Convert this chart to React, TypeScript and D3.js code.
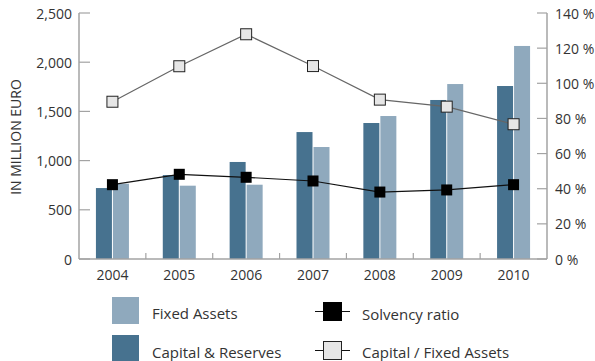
import React from "react";
import * as d3 from "d3";

const years = ["2004", "2005", "2006", "2007", "2008", "2009", "2010"];
const capitalReserves = [721, 853, 986, 1290, 1382, 1616, 1758];
const fixedAssets = [765, 745, 755, 1138, 1453, 1778, 2165];
const solvencyRatio = [42.3, 48.2, 46.5, 44.4, 38.1, 39.3, 42.3];
const capitalFixedRatio = [89.5, 109.7, 127.9, 109.8, 90.7, 86.7, 76.7];
const leftTicks = [0, 500, 1000, 1500, 2000, 2500];
const rightTicks = [0, 20, 40, 60, 80, 100, 120, 140];

const W = 595;
const H = 361;
const M = { left: 79, right: 547, top: 13, bottom: 259 };
const DARK = "#47728f";
const LIGHT = "#8fa9bd";
const AXIS = "#a3a3a3";
const TEXT = "#333";
const FONT = "'Open Sans', Lato, sans-serif";

export default function App() {
  const x = d3.scaleBand<string>().domain(years).range([M.left, M.right]);
  const yL = d3.scaleLinear().domain([0, 2500]).range([M.bottom, M.top]);
  const yR = d3.scaleLinear().domain([0, 140]).range([M.bottom, M.top]);
  const cx = (y: string) => (x(y) as number) + x.bandwidth() / 2;
  const barW = 16;
  const lineCF = d3
    .line<number>()
    .x((_, i) => cx(years[i]))
    .y((d) => yR(d));

  return (
    <svg
      width={W}
      height={H}
      style={{ position: "absolute", left: 0, top: 0, fontFamily: FONT }}
    >
      {/* bars */}
      {years.map((yr, i) => (
        <g key={yr}>
          <rect
            x={cx(yr) - barW - 0.5}
            y={yL(capitalReserves[i])}
            width={barW}
            height={M.bottom - yL(capitalReserves[i])}
            fill={DARK}
          />
          <rect
            x={cx(yr) + 0.5}
            y={yL(fixedAssets[i])}
            width={barW}
            height={M.bottom - yL(fixedAssets[i])}
            fill={LIGHT}
          />
        </g>
      ))}

      {/* axes */}
      <line x1={M.left} x2={M.left} y1={M.top} y2={M.bottom} stroke={AXIS} strokeWidth={1.5} />
      <line x1={M.right} x2={M.right} y1={M.top} y2={M.bottom} stroke={AXIS} strokeWidth={1.5} />
      <line x1={M.left} x2={M.right} y1={M.bottom} y2={M.bottom} stroke={AXIS} strokeWidth={1.5} />
      {leftTicks.map((t) => (
        <g key={"l" + t}>
          <line x1={M.left} x2={M.left + 11} y1={yL(t)} y2={yL(t)} stroke={AXIS} strokeWidth={1.2} />
          <text
            x={72}
            y={yL(t)}
            textAnchor="end"
            dominantBaseline="central"
            fontSize={14}
            fill={TEXT}
          >
            {d3.format(",")(t)}
          </text>
        </g>
      ))}
      {rightTicks.map((t) => (
        <g key={"r" + t}>
          <line x1={M.right - 10} x2={M.right} y1={yR(t)} y2={yR(t)} stroke={AXIS} strokeWidth={1.2} />
          <text
            x={555}
            y={yR(t)}
            textAnchor="start"
            dominantBaseline="central"
            fontSize={14}
            fill={TEXT}
          >
            {t} %
          </text>
        </g>
      ))}
      {years.slice(1).map((yr) => (
        <line
          key={"xt" + yr}
          x1={x(yr) as number}
          x2={x(yr) as number}
          y1={M.bottom}
          y2={M.bottom - 6}
          stroke={AXIS}
          strokeWidth={1.2}
        />
      ))}
      {years.map((yr) => (
        <text
          key={"xl" + yr}
          x={cx(yr)}
          y={274}
          textAnchor="middle"
          dominantBaseline="central"
          fontSize={14}
          fill={TEXT}
        >
          {yr}
        </text>
      ))}
      <text
        transform={`translate(15,137) rotate(-90)`}
        textAnchor="middle"
        dominantBaseline="central"
        fontSize={14}
        fill={TEXT}
      >
        IN MILLION EURO
      </text>

      {/* lines */}
      <path d={lineCF(capitalFixedRatio) as string} fill="none" stroke="#666" strokeWidth={1.2} />
      <path d={lineCF(solvencyRatio) as string} fill="none" stroke="#111" strokeWidth={1.2} />
      {years.map((yr, i) => (
        <rect
          key={"cf" + yr}
          x={cx(yr) - 5.5}
          y={yR(capitalFixedRatio[i]) - 5.5}
          width={11}
          height={11}
          fill="#e6e6e6"
          stroke="#222"
          strokeWidth={1}
        />
      ))}
      {years.map((yr, i) => (
        <rect
          key={"sv" + yr}
          x={cx(yr) - 5.5}
          y={yR(solvencyRatio[i]) - 5.5}
          width={11}
          height={11}
          fill="#000"
        />
      ))}

      {/* legend */}
      <rect x={112} y={297} width={27} height={27} fill={LIGHT} />
      <text x={152} y={313} dominantBaseline="central" fontSize={15} fill={TEXT}>
        Fixed Assets
      </text>
      <rect x={112} y={335} width={27} height={27} fill={DARK} />
      <text x={152} y={352} dominantBaseline="central" fontSize={15} fill={TEXT}>
        Capital &amp; Reserves
      </text>

      <line x1={315} x2={350} y1={311.5} y2={311.5} stroke="#111" strokeWidth={1} />
      <rect x={323} y={302} width={19} height={19} fill="#000" />
      <text x={362} y={314} dominantBaseline="central" fontSize={15} fill={TEXT}>
        Solvency ratio
      </text>
      <line x1={315} x2={350} y1={350.5} y2={350.5} stroke="#111" strokeWidth={1} />
      <rect x={323.5} y={341.5} width={18} height={18} fill="#e6e6e6" stroke="#222" strokeWidth={1} />
      <text x={362} y={352} dominantBaseline="central" fontSize={15} fill={TEXT}>
        Capital / Fixed Assets
      </text>
    </svg>
  );
}
